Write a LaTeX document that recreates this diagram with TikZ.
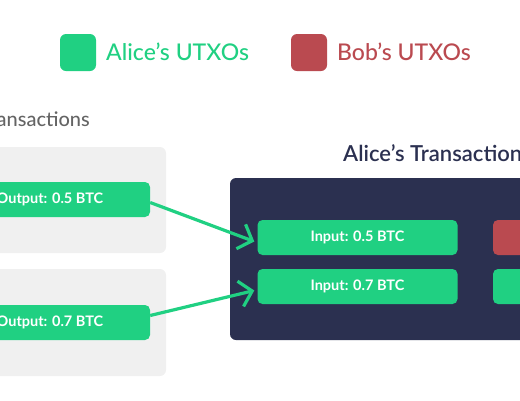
\documentclass[tikz,border=0pt]{standalone}
\usepackage{fontspec}
\setmainfont{Lato}
\newfontfamily\semib{Lato Semibold}
\newfontfamily\medf{Lato Medium}
\usetikzlibrary{arrows.meta}
\definecolor{agreen}{RGB}{32,208,130}
\definecolor{bred}{RGB}{186,74,80}
\definecolor{navy}{RGB}{43,48,80}
\definecolor{panel}{RGB}{240,240,240}
\definecolor{greytext}{RGB}{100,100,100}
\tikzset{
  legsq/.style={rounded corners=6pt, minimum width=36pt, minimum height=37pt, inner sep=0pt},
  utxo/.style={rounded corners=5pt, minimum width=200pt, minimum height=35pt, inner sep=0pt,
    text=white, font=\bfseries\fontsize{14.5}{16}\selectfont},
  link/.style={agreen, line width=3.2pt, -{Straight Barb[length=12pt,width=26pt,line width=3.2pt]}}
}
\begin{document}
\begin{tikzpicture}[x=1pt,y=-1pt]
\useasboundingbox (0,0) rectangle (520,400);
\clip (0,0) rectangle (520,400);
% legend
\node[legsq, fill=agreen] (lga) at (78,52.5) {};
\node[anchor=west, text=agreen, font=\medf\fontsize{23}{26}\selectfont, inner sep=0pt] (lgat) at (106,52) {Alice’s UTXOs};
\node[legsq, fill=bred] (lgb) at (309,52.5) {};
\node[anchor=west, text=bred, font=\medf\fontsize{23}{26}\selectfont, inner sep=0pt] (lgbt) at (337,52) {Bob’s UTXOs};
% left section
\node[anchor=east, text=greytext, font=\medf\fontsize{20}{24}\selectfont, inner sep=0pt] (lt) at (90,119) {Transactions};
\fill[panel, rounded corners=6pt] (-20,147) rectangle (166,253);
\fill[panel, rounded corners=6pt] (-20,269) rectangle (166,376);
\node[utxo, fill=agreen] (out1) at (50,199.5) {Output: 0.5 BTC};
\node[utxo, fill=agreen] (out2) at (50,322.5) {Output: 0.7 BTC};
% right section
\node[anchor=west, text=navy, font=\semib\fontsize{22}{26}\selectfont, inner sep=0pt] (rt) at (343,153) {Alice’s Transactions};
\fill[navy, rounded corners=6pt] (230,178) rectangle (640,340);
\node[utxo, fill=agreen] (in1) at (357.5,237.5) {Input: 0.5 BTC};
\node[utxo, fill=agreen] (in2) at (357.5,286.5) {Input: 0.7 BTC};
\node[utxo, fill=bred] (r1) at (593,237.5) {};
\node[utxo, fill=agreen] (r2) at (593,286.5) {};
% arrows
\draw[link] ([yshift=-3pt]out1.east) -- ([xshift=-3pt,yshift=-4pt]in1.west);
\draw[link] ([yshift=7pt]out2.east) -- ([xshift=-3pt,yshift=-4pt]in2.west);
\end{tikzpicture}
\end{document}
